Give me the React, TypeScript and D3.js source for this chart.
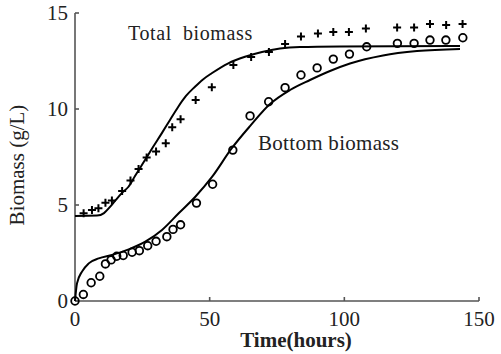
import React from "react";
import * as d3 from "d3";

// Measured "Total biomass" (+ markers)
const totalT = [3.2, 6.3, 8.7, 11.3, 13.7, 17.5, 20.6, 23.6, 26.6, 30.1, 33.7, 36.1, 39.2, 44.8, 50.8, 58.8, 65.4, 72, 78, 83.9, 90.2, 95.9, 101.7, 108, 119.6, 125.9, 131.8, 137.8, 143.9];
const totalV = [4.57, 4.74, 4.83, 5.12, 5.23, 5.73, 6.28, 6.88, 7.48, 7.78, 8.21, 9.05, 9.46, 10.47, 11.13, 12.29, 12.71, 12.97, 13.39, 13.78, 13.93, 14.01, 14.01, 14.19, 14.24, 14.24, 14.43, 14.38, 14.43];

// Measured "Bottom biomass" (o markers)
const bottomT = [0, 3.1, 6.0, 9.2, 11.3, 13.4, 15.5, 17.9, 21.2, 23.9, 27.0, 30.1, 34.1, 36.4, 39.2, 45.1, 51.1, 58.6, 65.0, 71.9, 78.0, 83.9, 89.9, 95.9, 101.9, 108.3, 119.7, 125.9, 131.8, 137.7, 144];
const bottomV = [0, 0.34, 0.95, 1.29, 1.93, 2.14, 2.33, 2.37, 2.54, 2.62, 2.88, 3.11, 3.35, 3.73, 3.97, 5.1, 6.08, 7.86, 9.64, 10.38, 11.11, 11.77, 12.14, 12.6, 12.86, 13.24, 13.42, 13.42, 13.59, 13.59, 13.71];

// Model curves
const totalFitT = [0, 8.17, 10.77, 13.0, 14.85, 17.45, 19.86, 22.28, 25.99, 28.96, 32.19, 35.27, 38.35, 41.21, 44.55, 47.52, 50.76, 56.92, 63.12, 69.43, 76.11, 83.54, 98.39, 142.95];
const totalFitV = [4.43, 4.45, 4.58, 4.9, 5.21, 5.63, 5.95, 6.51, 7.34, 8.02, 8.73, 9.43, 10.12, 10.68, 11.16, 11.54, 11.86, 12.38, 12.72, 12.97, 13.15, 13.23, 13.26, 13.28];

const bottomFitT = [0, 0.74, 2.6, 5.09, 8.8, 13.74, 19.94, 26.1, 32.3, 38.5, 44.67, 50.87, 58.29, 64.98, 72.4, 79.83, 87.25, 94.68, 102.1, 114.36, 126.98, 142.95];
const bottomFitV = [0, 0.92, 1.53, 1.96, 2.22, 2.4, 2.69, 3.09, 3.7, 4.57, 5.43, 6.46, 7.97, 9.11, 10.26, 10.99, 11.51, 11.98, 12.37, 12.79, 13.02, 13.13];

const xTicks = [0, 50, 100, 150];
const yTicks = [0, 5, 10, 15];

const W = 501;
const H = 354;
const FONT = "Liberation Serif, Times New Roman, serif";

export default function App() {
  const x = d3.scaleLinear().domain([0, 150]).range([75, 479]);
  const y = d3.scaleLinear().domain([0, 15]).range([301, 13]);

  const line = d3
    .line<[number, number]>()
    .x((d) => x(d[0]))
    .y((d) => y(d[1]))
    .curve(d3.curveMonotoneX);

  const totalFit = totalFitT.map((t, i) => [t, totalFitV[i]] as [number, number]);
  const bottomFit = bottomFitT.map((t, i) => [t, bottomFitV[i]] as [number, number]);

  const axisColor = "#555";
  const txt = { fontFamily: FONT } as React.CSSProperties;

  return (
    <svg
      width={W}
      height={H}
      style={{ position: "absolute", left: 0, top: 0, background: "#fff" }}
    >
      <rect width={W} height={H} fill="#fff" />
      {/* axes */}
      <line x1={x(0)} x2={x(0)} y1={y(15)} y2={y(0)} stroke={axisColor} strokeWidth={1.6} />
      <line x1={x(0)} x2={x(150)} y1={y(0)} y2={y(0)} stroke={axisColor} strokeWidth={1.6} />
      {yTicks.map((t) => (
        <g key={"y" + t}>
          <line x1={x(0)} x2={x(0) + 4} y1={y(t)} y2={y(t)} stroke={axisColor} strokeWidth={1.6} />
          <text x={68} y={y(t)} dy="0.35em" textAnchor="end" fontSize={21} fill="#222" style={txt}>
            {t}
          </text>
        </g>
      ))}
      {xTicks.map((t) => (
        <g key={"x" + t}>
          <line x1={x(t)} x2={x(t)} y1={y(0)} y2={y(0) - 4} stroke={axisColor} strokeWidth={1.6} />
          <text x={x(t)} y={326} textAnchor="middle" fontSize={21} fill="#222" style={txt}>
            {t}
          </text>
        </g>
      ))}
      <text x={296} y={347} textAnchor="middle" fontSize={21} fontWeight="bold" fill="#222" style={txt}>
        Time(hours)
      </text>
      <text
        transform={`translate(24,165) rotate(-90)`}
        textAnchor="middle"
        fontSize={21}
        fill="#222"
        style={txt}
      >
        Biomass (g/L)
      </text>

      {/* fitted curves */}
      <path d={line(totalFit) || ""} fill="none" stroke="#000" strokeWidth={2} />
      <path d={line(bottomFit) || ""} fill="none" stroke="#000" strokeWidth={2} />

      {/* total markers */}
      {totalT.map((t, i) => {
        const cx = x(t);
        const cy = y(totalV[i]);
        return (
          <path
            key={"p" + i}
            d={`M${cx - 4},${cy}H${cx + 4}M${cx},${cy - 4}V${cy + 4}`}
            stroke="#000"
            strokeWidth={2}
          />
        );
      })}
      {/* bottom markers */}
      {bottomT.map((t, i) => (
        <circle
          key={"c" + i}
          cx={x(t)}
          cy={y(bottomV[i])}
          r={3.8}
          fill="none"
          stroke="#000"
          strokeWidth={1.8}
        />
      ))}

      <text x={128} y={40} fontSize={20} fill="#222" letterSpacing={0.6} style={{ ...txt, whiteSpace: "pre" }}>
        {"Total  biomass"}
      </text>
      <text x={258} y={150} fontSize={21} fill="#222" letterSpacing={0.3} style={txt}>
        Bottom biomass
      </text>
    </svg>
  );
}
